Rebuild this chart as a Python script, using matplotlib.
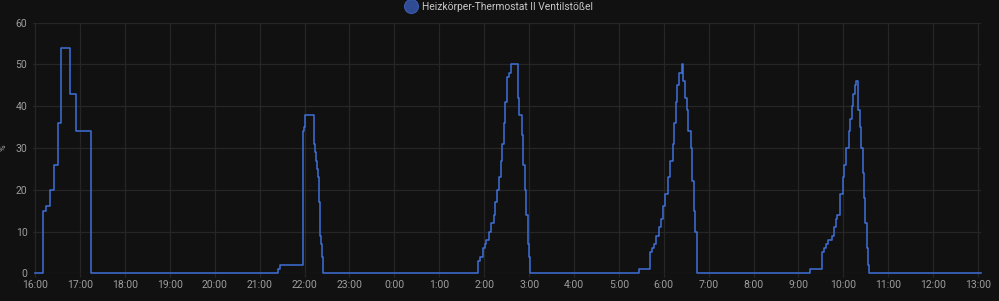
import matplotlib
matplotlib.use("Agg")
import matplotlib.pyplot as plt
import matplotlib.dates as mdates
from matplotlib.ticker import FuncFormatter
from matplotlib.lines import Line2D
import pandas as pd

# valve opening (%) of the radiator thermostat, sampled as steps (value holds until next entry)
times = [
    "16:00", "16:11", "16:15", "16:20", "16:25", "16:30", "16:35", "16:47", "16:55", "17:15",
    "21:24", "21:27", "21:58", "21:59", "22:00", "22:01", "22:02", "22:12", "22:14", "22:15",
    "22:16", "22:18", "22:19", "22:20", "22:21", "22:22", "22:23", "22:24", "22:25",
    "1:52", "1:55", "1:58", "2:01", "2:03", "2:06", "2:09", "2:13", "2:15", "2:17", "2:20",
    "2:22", "2:24", "2:26", "2:28", "2:30", "2:31", "2:33", "2:36", "2:45", "2:47", "2:50",
    "2:52", "2:54", "2:56", "2:58", "3:00", "3:01",
    "5:27", "5:42", "5:44", "5:47", "5:50", "5:53", "5:56", "5:59", "6:02", "6:06", "6:09",
    "6:12", "6:14", "6:16", "6:18", "6:20", "6:22", "6:24", "6:26", "6:28", "6:31", "6:33",
    "6:36", "6:38", "6:40", "6:42", "6:44", "6:45",
    "9:16", "9:32", "9:34", "9:37", "9:40", "9:43", "9:45", "9:47", "9:50", "9:52", "9:55",
    "9:56", "9:59", "10:01", "10:04", "10:07", "10:09", "10:11", "10:13", "10:15", "10:17",
    "10:19", "10:20", "10:22", "10:24", "10:26", "10:28", "10:29", "10:31", "10:33", "10:34",
    "13:04",
]
values = [
    0, 15, 16, 20, 26, 36, 54, 43, 34, 0,
    1, 2, 34, 35, 37, 38, 38, 31, 29, 27,
    25, 23, 17, 14, 9, 7, 4, 2, 0,
    3, 4, 6, 7, 8, 10, 12, 14, 17, 20, 23,
    27, 31, 36, 41, 45, 47, 48, 50, 42, 38, 33,
    26, 20, 14, 7, 4, 0,
    1, 5, 6, 7, 9, 11, 13, 16, 19, 23, 27,
    31, 36, 41, 45, 48, 48, 50, 46, 42, 39, 34,
    30, 22, 15, 10, 4, 0,
    1, 5, 6, 7, 8, 8, 9, 11, 13, 14, 16,
    19, 23, 26, 30, 34, 37, 40, 43, 45, 46,
    43, 39, 35, 30, 24, 18, 12, 6, 2, 0,
    0,
]
series_name = "Heizkörper-Thermostat II Ventilstößel"
unit = "%"

BG = "#111111"
GRID = "#262626"
TEXT = "#9d9d9d"
LINE = "#3f6fd8"


def to_datetime(t):
    # the window runs from the afternoon of one day to the early afternoon of the next
    h, m = (int(p) for p in t.split(":"))
    day = pd.Timestamp("2021-12-07") if h >= 15 else pd.Timestamp("2021-12-08")
    return day + pd.Timedelta(hours=h, minutes=m)


x = [to_datetime(t) for t in times]

plt.rcParams["font.family"] = ["Roboto", "DejaVu Sans"]
fig = plt.figure(figsize=(9.99, 3.01), dpi=100)
fig.patch.set_facecolor(BG)
ax = fig.add_axes([33 / 999, 1 - 273.3 / 301, (981 - 33) / 999, (273.3 - 22.7) / 301])
ax.set_facecolor(BG)

ax.step(x, values, where="post", color=LINE, lw=1.1, clip_on=False, zorder=3)

ax.set_ylim(0, 60)
ax.set_yticks(range(0, 61, 10))
ax.set_xlim(to_datetime("15:57"), to_datetime("13:04"))
ax.xaxis.set_major_locator(mdates.HourLocator())
ax.xaxis.set_major_formatter(FuncFormatter(lambda v, _: f"{mdates.num2date(v).hour}:00"))

ax.grid(True, color=GRID, lw=0.9)
for s in ax.spines.values():
    s.set_visible(False)
ax.tick_params(axis="x", colors=GRID, labelcolor=TEXT, labelsize=7.5, length=3, width=0.9, pad=2)
ax.tick_params(axis="y", colors=GRID, labelcolor=TEXT, labelsize=7.5, length=0, pad=4)
ax.set_ylabel(unit, color=TEXT, fontsize=6.5)
ax.yaxis.set_label_coords(-25 / 948, 0.5)

handle = Line2D([], [], marker="o", ls="none", markersize=10,
                markerfacecolor="#2e4b94", markeredgecolor="#3a5cb0", markeredgewidth=0.8)
leg = fig.legend([handle], [series_name], loc="center", bbox_to_anchor=(499.5 / 999, 1 - 6.5 / 301),
                 frameon=False, fontsize=7.4, labelcolor="#c8c8c8", handletextpad=0.5,
                 borderpad=0, handlelength=1.0)

fig.savefig("out.png", dpi=100, facecolor=BG)
